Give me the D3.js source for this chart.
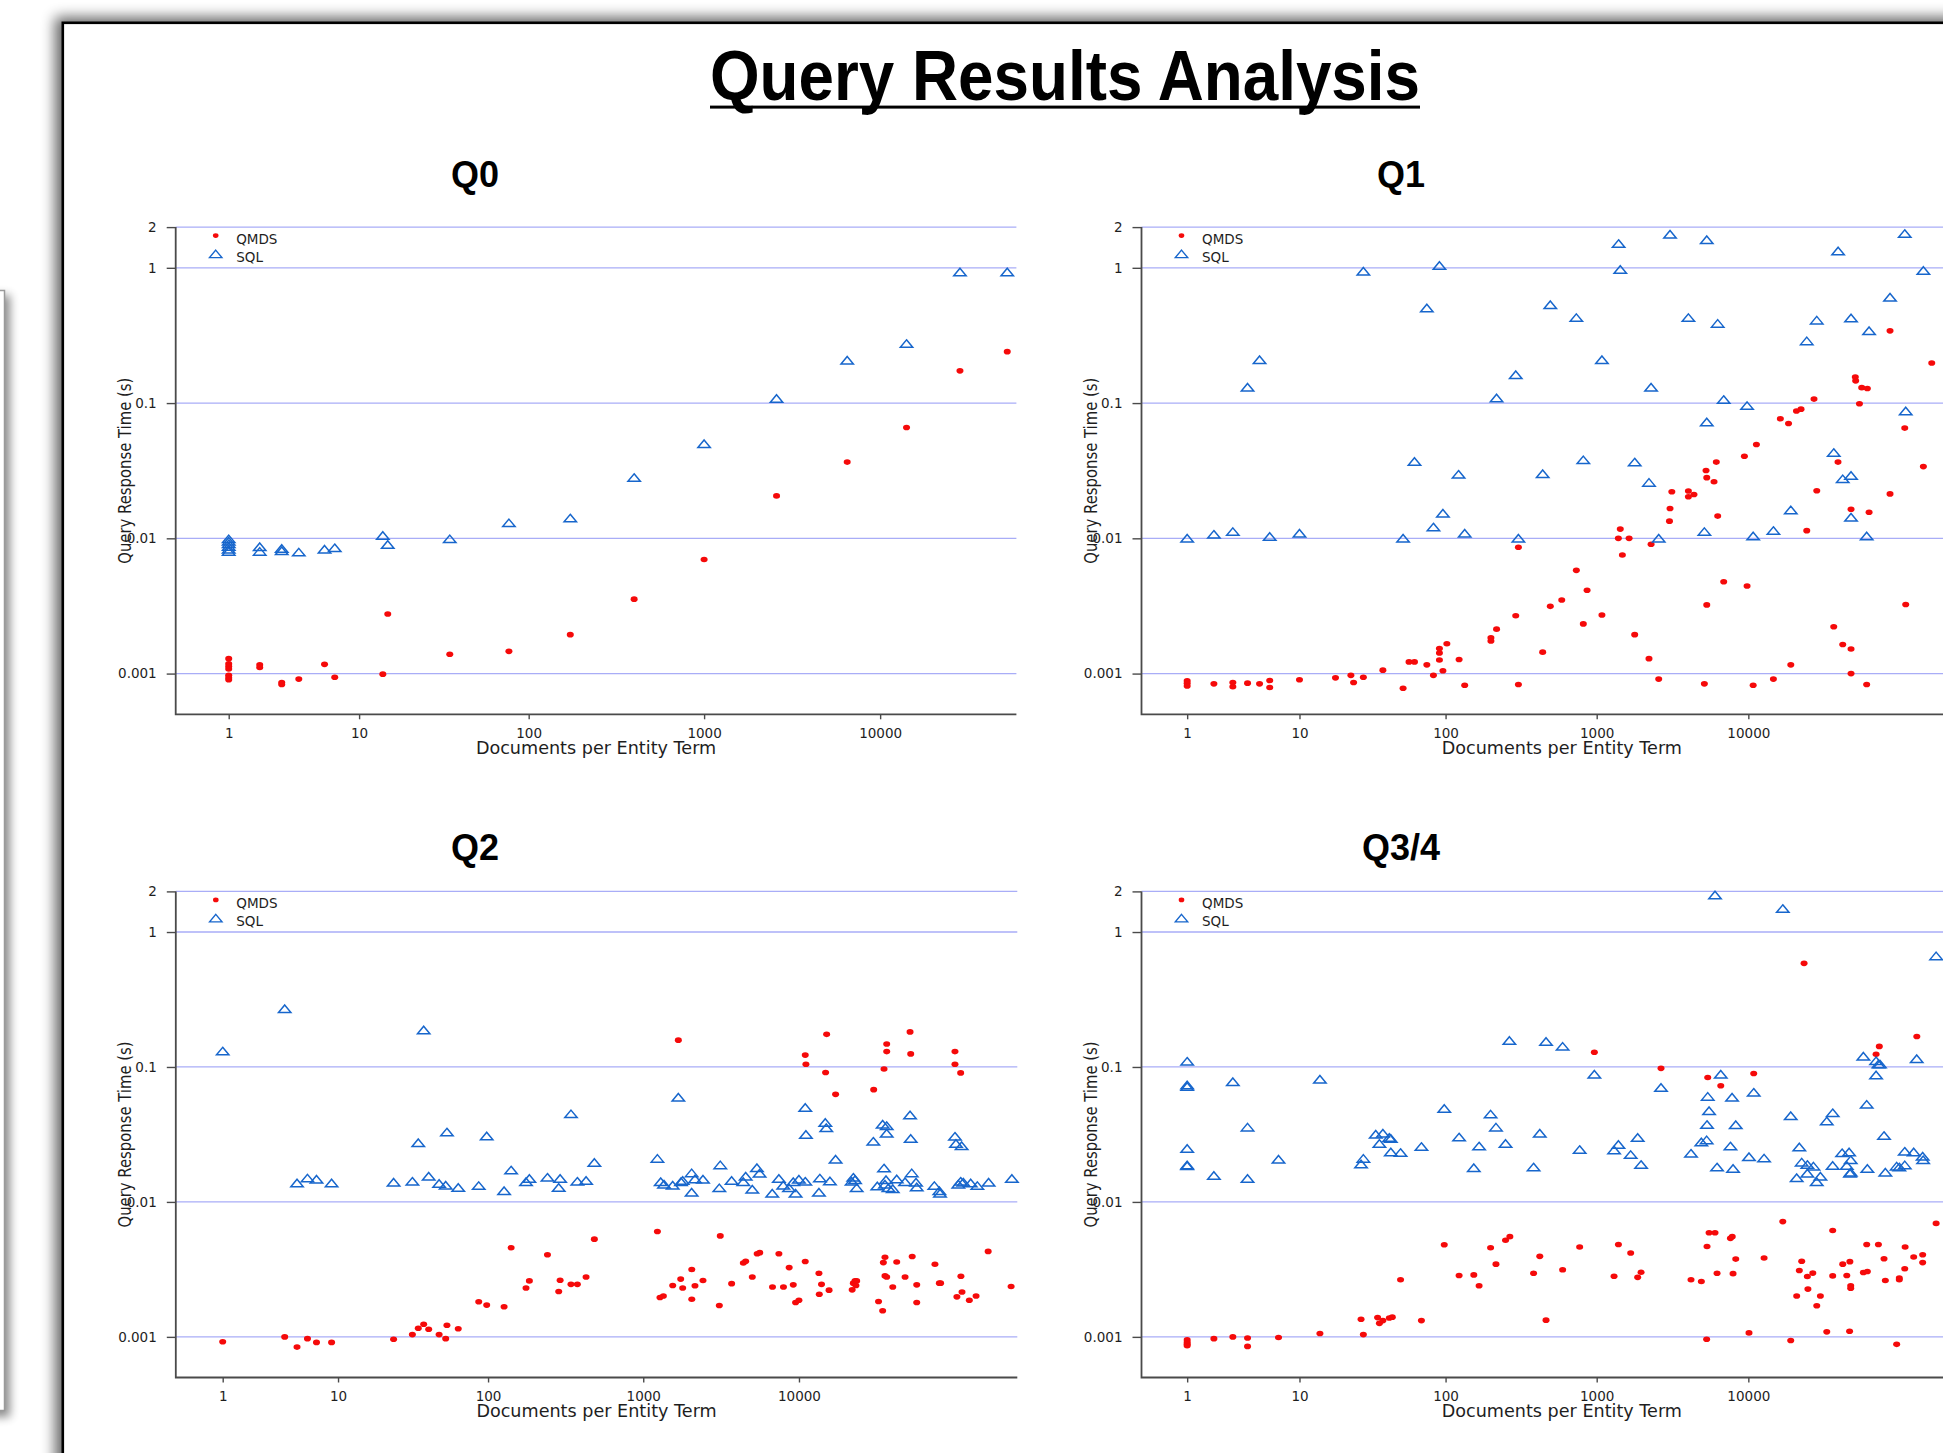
<!DOCTYPE html>
<html><head><meta charset="utf-8">
<script src="https://cdn.jsdelivr.net/npm/d3@7"></script>
<style>html,body{margin:0;padding:0;background:#fff;overflow:hidden}</style>
</head><body>
<script>
const mainTitle = "Query Results Analysis";
const panelTitles = ["Q0", "Q1", "Q2", "Q3/4"];
const seriesNames = ["QMDS", "SQL"];
const xLabel = "Documents per Entity Term";
const yLabel = "Query Response Time (s)";
const xTicks = [1, 10, 100, 1000, 10000];
const xTickLabels = ["1", "10", "100", "1000", "10000"];
const yTicks = [0.001, 0.01, 0.1, 1, 2];
const yTickLabels = ["0.001", "0.01", "0.1", "1", "2"];

const q0Qmds = [[1,0.00129],[1,0.00118],[1,0.00113],[1,0.00108],[1,0.00097],[1,0.00093],[1,0.0009],
[2,0.00116],[2,0.00111],[3,0.00086],[3,0.00083],[4,0.00091],[6,0.00117],[7,0.00094],[14,0.00099],[15,0.00276],
[35,0.00139],[77,0.00146],[173,0.00194],[400,0.00355],[1000,0.00697],[2580,0.0206],[6500,0.0366],[14120,0.066],[28400,0.173],[52700,0.24]];
const q0Sql = [[1,0.0099],[1,0.0095],[1,0.0091],[1,0.0087],[1,0.0083],[1,0.0080],[2,0.00867],[2,0.0080],[3,0.0084],[3,0.0081],
[4,0.0079],[6,0.0083],[7,0.0085],[14,0.0105],[15,0.0090],[35,0.0099],[77,0.0130],[173,0.0141],[400,0.0281],[1000,0.050],
[2580,0.108],[6500,0.207],[14120,0.275],[28400,0.93],[52700,0.93]];

const q1Qmds = [[1,0.000885],[1,0.00085],[1,0.00081],[2,0.00084],[3,0.00086],[3,0.0008],[4,0.00085],[5,0.00084],[6,0.00089],[6,0.00079],
[10,0.0009],[18,0.00093],[23,0.00097],[24,0.00086],[28,0.00094],[38,0.00106],[52,0.00078],[57,0.00122],[62,0.00122],[75,0.00116],
[83,0.00097],[91,0.00153],[91,0.00142],[91,0.00126],[96,0.00105],[102,0.00166],[123,0.00127],[134,0.00082],[200,0.00184],[200,0.00174],
[218,0.00213],[292,0.00268],[304,0.0086],[304,0.00083],[440,0.00144],[494,0.00314],[588,0.0035],[734,0.0058],[816,0.00233],[864,0.00413],
[1083,0.00271],[1390,0.0100],[1431,0.0117],[1477,0.00753],[1636,0.0100],[1781,0.00194],[2213,0.00129],[2284,0.00903],[2565,0.00091],
[3020,0.0134],[3046,0.0166],[3130,0.0221],[4025,0.0224],[4025,0.0203],[4380,0.0211],[5130,0.00084],[5260,0.0317],[5320,0.0281],
[5320,0.00322],[5940,0.0262],[6150,0.0366],[6280,0.0146],[6880,0.00477],[9420,0.0404],[9810,0.00444],[10760,0.00082],[11300,0.0494],
[14630,0.00091],[16260,0.0766],[18400,0.0707],[19050,0.00116],[20750,0.0874],[22250,0.0902],[24270,0.0114],[27100,0.107],[28250,0.0225],
[36560,0.00222],[39000,0.0366],[41900,0.00164],[47530,0.00152],[47530,0.0164],[47530,0.0010],[50700,0.156],[51000,0.146],[54000,0.0988],
[55900,0.130],[60900,0.128],[60260,0.00083],[62500,0.0156],[85900,0.342],[85900,0.0213],[107400,0.0653],[109000,0.00324],[142500,0.0339],[161800,0.198]];
const q1Sql = [[1,0.0100],[2,0.0107],[3,0.0112],[4,0.131],[5,0.209],[6,0.0103],[10,0.0109],[28,0.944],[52,0.0100],[62,0.037],
[75,0.505],[83,0.0121],[91,1.04],[96,0.0153],[122,0.0297],[134,0.0109],[218,0.109],[292,0.162],[304,0.0100],[440,0.030],
[494,0.533],[734,0.428],[816,0.038],[1083,0.209],[1395,1.51],[1431,0.972],[1781,0.0366],[2213,0.0259],[2284,0.131],[2565,0.0100],
[3046,1.77],[4025,0.428],[5130,0.0112],[5320,1.61],[5320,0.0725],[6280,0.388],[6880,0.106],[9810,0.0957],[10760,0.0104],[14630,0.0114],
[19050,0.0162],[24270,0.288],[28250,0.410],[36560,0.043],[39070,1.33],[41900,0.0275],[47530,0.425],[47530,0.0291],[47530,0.0143],
[60260,0.0104],[62500,0.342],[85900,0.606],[107400,1.79],[109000,0.0874],[142500,0.955]];

const q2Qmds = [[1,0.00092],[4,0.00100],[5,0.00084],[6,0.00097],[7,0.00091],[9,0.00091],[24,0.00096],[32,0.00104],[35,0.00116],[38,0.00124],
[41,0.00114],[48,0.00104],[53,0.00097],[54,0.00122],[64,0.00115],[87,0.00182],[98,0.00172],[127,0.00167],[141,0.00458],[176,0.0023],
[185,0.0026],[242,0.00406],[286,0.00217],[292,0.00263],[343,0.00245],[377,0.00245],[429,0.00278],[485,0.0053],
[1233,0.00603],[1281,0.00196],[1347,0.00201],[1546,0.0024],[1680,0.158],[1740,0.00268],[1792,0.0023],[2050,0.00316],[2050,0.0019],
[2149,0.00239],[2419,0.00262],[3080,0.00171],[3124,0.0056],[3695,0.00248],[4392,0.00353],[4548,0.00363],[5015,0.00278],[5390,0.00413],
[5600,0.00421],[6760,0.00234],[7430,0.00413],[7950,0.00234],[8650,0.00326],[9190,0.00243],[9510,0.0018],[9990,0.00187],[10970,0.00362],
[10970,0.1225],[11080,0.1047],[13430,0.00296],[13500,0.00207],[13950,0.00245],[14820,0.091],[15050,0.1745],[15600,0.00222],[17180,0.0627],
[21950,0.00223],[22330,0.0025],[22900,0.0026],[23200,0.0024],[23460,0.0026],[30170,0.0679],[32400,0.00183],[34450,0.00156],[34800,0.00355],
[35650,0.00389],[35150,0.0967],[35650,0.00283],[36570,0.00278],[36570,0.148],[36570,0.130],[39990,0.00234],[42400,0.00359],[47970,0.00278],
[51640,0.182],[52150,0.125],[53300,0.00394],[57000,0.00243],[57000,0.0018],[74600,0.00345],[79630,0.0025],[81100,0.0025],[100300,0.130],
[100300,0.1047],[103200,0.00198],[109100,0.0904],[109500,0.00281],[111300,0.00215],[124000,0.00187],[137000,0.00201],[163800,0.0043],[230000,0.00236]];
const q2Sql = [[1,0.131],[4,0.270],[5,0.0138],[6,0.0150],[7,0.0147],[9,0.0138],[24,0.0140],[32,0.0142],[35,0.0274],[38,0.1876],
[41,0.0155],[48,0.0137],[53,0.0133],[54,0.0329],[64,0.0128],[87,0.0132],[98,0.0308],[127,0.0121],[141,0.0172],[176,0.0141],
[185,0.0149],[242,0.0152],[286,0.0128],[292,0.0149],[343,0.0449],[377,0.0142],[429,0.0144],[485,0.0196],
[1233,0.0210],[1295,0.0141],[1360,0.0135],[1546,0.0133],[1680,0.0597],[1748,0.0141],[1792,0.0144],[2046,0.0164],[2046,0.0118],
[2149,0.0148],[2419,0.0147],[3080,0.0127],[3124,0.0188],[3695,0.0144],[4392,0.0141],[4548,0.0155],[5015,0.0124],[5370,0.0179],
[5585,0.0163],[6735,0.0116],[7430,0.0149],[7925,0.0133],[8630,0.0127],[9190,0.0141],[9510,0.0116],[9990,0.0147],[10970,0.0142],
[10970,0.0501],[11080,0.0316],[13430,0.0118],[13620,0.0150],[14750,0.0388],[14970,0.0354],[15800,0.0143],[17180,0.0207],[21770,0.0142],
[22330,0.0152],[22900,0.0146],[23460,0.0127],[30000,0.0281],[31840,0.0131],[34450,0.0376],[35150,0.0178],[35650,0.0135],[36200,0.0146],
[36570,0.0367],[36570,0.0323],[37500,0.0127],[39990,0.0125],[42400,0.0148],[47970,0.0141],[51640,0.044],[52150,0.0295],[52940,0.0164],
[56400,0.0140],[57000,0.0129],[73960,0.0132],[79630,0.0121],[80400,0.0116],[100300,0.0306],[101800,0.0271],[105400,0.0135],[109100,0.0142],
[110700,0.0261],[113500,0.0140],[126500,0.0138],[139600,0.0132],[164900,0.0140],[232600,0.0149]];

const q3Qmds = [[1,0.00095],[1,0.00091],[1,0.00088],[1,0.00086],[2,0.00097],[3,0.0010],[4,0.00098],[4,0.00085],[7,0.00099],[14,0.00106],
[27,0.00135],[28,0.00104],[35,0.00139],[36,0.00126],[38,0.00132],[42,0.00138],[44,0.0014],[50,0.00265],[69,0.00132],[98,0.00481],
[123,0.00285],[154,0.00288],[167,0.00239],[199,0.00458],[216,0.00346],[250,0.0052],[267,0.00553],
[383,0.00296],[421,0.00395],[463,0.00133],[596,0.00314],[772,0.00463],[965,0.1285],[1302,0.00281],[1391,0.00484],[1676,0.00418],
[1864,0.00276],[1962,0.00301],[2656,0.0977],[4188,0.00265],[4900,0.00257],[5310,0.00096],[5340,0.00467],[5400,0.0836],[5510,0.00591],
[6030,0.00591],[6220,0.00296],[6580,0.0726],[7620,0.00537],[7830,0.00553],[7930,0.00294],[8260,0.00377],[10100,0.00107],[10850,0.0894],
[12700,0.00384],[16870,0.00715],[19030,0.00094],[20830,0.00201],[21680,0.0031],[22480,0.00363],[23300,0.586],[24490,0.0028],[24700,0.00226],
[26600,0.00297],[28250,0.0017],[29850,0.00201],[32880,0.00109],[35980,0.00614],[35980,0.00283],[41900,0.00346],[44560,0.00285],[46700,0.00361],
[46500,0.0011],[47300,0.00239],[47300,0.00229],[57300,0.003],[60300,0.00484],[60900,0.00305],[69500,0.124],[72000,0.00484],[73000,0.142],
[78400,0.00379],[80000,0.00262],[95000,0.00088],[98900,0.00273],[98900,0.00265],[107400,0.0032],[108000,0.00463],[123000,0.00391],
[129000,0.168],[141000,0.00406],[141000,0.00355],[172900,0.00693]];
const q3Sql = [[1,0.110],[1,0.0735],[1,0.0717],[1,0.0249],[1,0.0188],[1,0.0185],[2,0.0157],[3,0.0777],[4,0.0358],[4,0.0149],
[7,0.0207],[14,0.081],[27,0.0191],[28,0.021],[34,0.0317],[36,0.0271],[38,0.0323],[42,0.030],[43,0.0295],[43,0.0234],
[50,0.0232],[69,0.0257],[98,0.0492],[123,0.0302],[154,0.0179],[167,0.0259],[199,0.0447],[216,0.0358],[250,0.0271],[265,0.157],
[383,0.0181],[421,0.0323],[463,0.1545],[596,0.142],[772,0.0244],[965,0.0883],[1302,0.0242],[1391,0.0266],[1676,0.0224],[1864,0.030],
[1962,0.0189],[2656,0.0705],[4188,0.0229],[4900,0.0278],[5310,0.0288],[5340,0.0374],[5400,0.0605],[5510,0.0474],[6030,1.88],[6220,0.0181],
[6580,0.0883],[7620,0.0259],[7810,0.0596],[7930,0.0177],[8260,0.0373],[10100,0.0216],[10850,0.0648],[12700,0.0211],[16870,1.49],[19030,0.0435],
[20830,0.0151],[21680,0.0255],[22480,0.0197],[24490,0.0189],[24490,0.0163],[26850,0.0184],[28250,0.0141],[29850,0.0155],[32880,0.0397],
[35980,0.0457],[35980,0.0186],[41500,0.0231],[44560,0.0186],[46150,0.0234],[47300,0.0205],[47300,0.0166],[46800,0.0163],[57300,0.120],
[60300,0.0528],[60900,0.0177],[69500,0.0871],[69500,0.111],[72000,0.105],[73700,0.105],[78400,0.031],[80000,0.0166],[95000,0.0184],
[98900,0.0181],[107400,0.0237],[107400,0.0188],[123000,0.0234],[128800,0.115],[141000,0.0218],[142000,0.0205],[172900,0.665]];

const qmdsSets = [q0Qmds, q1Qmds, q2Qmds, q3Qmds];
const sqlSets = [q0Sql, q1Sql, q2Sql, q3Sql];

// ---------- layout ----------
const W = 1943, H = 1453;
const panels = [
  {tx:475, ty:187, ax:175.7, right:1016.4, top:227.1, bottom:714.3, xmax:59400},
  {tx:1401, ty:187, ax:1141.5, right:1982.2, top:227.1, bottom:714.3, xmax:348000},
  {tx:475, ty:860, ax:175.8, right:1017.3, top:891.4, bottom:1377.5, xmax:252000},
  {tx:1401, ty:860, ax:1141.5, right:1982.2, top:891.4, bottom:1377.5, xmax:348000}
];
const RED = "#f50a0a", BLUE = "#1766cc", GRID = "#a9adf7", AXIS = "#4a4a4a", TXT = "#1e1e1e";
const tickFont = "'DejaVu Sans', sans-serif";
const triPath = "M0,-3.8L6.2,3.7L-6.2,3.7Z";

const svg = d3.select("body").append("svg").attr("width", W).attr("height", H)
  .style("display", "block");
const defs = svg.append("defs");
const f1 = defs.append("filter").attr("id", "blur7").attr("x", "-20%").attr("y", "-20%").attr("width", "140%").attr("height", "140%");
f1.append("feGaussianBlur").attr("stdDeviation", 7);
const f2 = defs.append("filter").attr("id", "blur5").attr("x", "-50%").attr("y", "-20%").attr("width", "300%").attr("height", "140%");
f2.append("feGaussianBlur").attr("stdDeviation", 5);

svg.append("rect").attr("width", W).attr("height", H).attr("fill", "#fff");

// left edge box (another slide) with shadow
svg.append("rect").attr("x", -10).attr("y", 295).attr("width", 20).attr("height", 1122)
  .attr("fill", "#000").attr("opacity", 0.45).attr("filter", "url(#blur5)");
svg.append("rect").attr("x", -10).attr("y", 290.5).attr("width", 14.5).attr("height", 1120)
  .attr("fill", "#fff").attr("stroke", "#9a9a9a").attr("stroke-width", 1.5);

// slide frame with shadow
svg.append("rect").attr("x", 55).attr("y", 17).attr("width", 2100).attr("height", 2100)
  .attr("fill", "#000").attr("opacity", 0.6).attr("filter", "url(#blur7)");
svg.append("rect").attr("x", 62.8).attr("y", 22.8).attr("width", 2100).attr("height", 2100)
  .attr("fill", "#fff").attr("stroke", "#000").attr("stroke-width", 2.6);

// main title
svg.append("text").attr("x", 1065).attr("y", 100).attr("text-anchor", "middle")
  .attr("font-family", "'Liberation Sans', Arial, sans-serif").attr("font-weight", "bold")
  .attr("font-size", 70).attr("textLength", 710).attr("lengthAdjust", "spacingAndGlyphs")
  .attr("fill", "#000").text(mainTitle);
svg.append("rect").attr("x", 710).attr("y", 105.6).attr("width", 710).attr("height", 3).attr("fill", "#000");

panels.forEach((p, i) => {
  const g = svg.append("g");
  const x = d3.scaleSymlog().constant(1).domain([0, p.xmax]).range([p.ax, p.right]);
  const y = d3.scaleLog().domain([0.0005, 2]).range([p.bottom, p.top]);

  // panel title
  g.append("text").attr("x", p.tx).attr("y", p.ty).attr("text-anchor", "middle")
    .attr("font-family", "'Liberation Sans', Arial, sans-serif").attr("font-weight", "bold")
    .attr("font-size", 36).attr("fill", "#000").text(panelTitles[i]);

  // grid lines
  g.append("g").selectAll("line").data(yTicks).join("line")
    .attr("x1", p.ax).attr("x2", p.right)
    .attr("y1", d => y(d)).attr("y2", d => y(d))
    .attr("stroke", GRID).attr("stroke-width", 1.3);

  // axes
  const ya = g.append("g").attr("transform", `translate(${p.ax},0)`)
    .call(d3.axisLeft(y).tickValues(yTicks).tickSize(9).tickPadding(10)
      .tickFormat(d => yTickLabels[yTicks.indexOf(d)]));
  const xa = g.append("g").attr("transform", `translate(0,${p.bottom})`)
    .call(d3.axisBottom(x).tickValues(xTicks).tickSize(5).tickPadding(9)
      .tickFormat(d => xTickLabels[xTicks.indexOf(d)]));
  [ya, xa].forEach(a => {
    a.select(".domain").remove();
    a.selectAll(".tick line").attr("stroke", AXIS).attr("stroke-width", 1.4);
    a.selectAll(".tick text").attr("font-family", tickFont).attr("font-size", 13.5).attr("fill", TXT);
  });
  g.append("path").attr("d", `M${p.ax},${y(2)}V${p.bottom}H${p.right}`)
    .attr("fill", "none").attr("stroke", AXIS).attr("stroke-width", 1.8);

  // axis labels
  g.append("text").attr("x", (p.ax + p.right) / 2).attr("y", p.bottom + 39.3)
    .attr("text-anchor", "middle").attr("font-family", tickFont).attr("font-size", 17.6)
    .attr("fill", TXT).text(xLabel);
  g.append("text").attr("transform", `translate(${p.ax - 45},${(p.top + p.bottom) / 2}) rotate(-90)`)
    .attr("text-anchor", "middle").attr("font-family", tickFont).attr("font-size", 17.5)
    .attr("textLength", 186).attr("lengthAdjust", "spacingAndGlyphs")
    .attr("fill", TXT).text(yLabel);

  // points
  g.append("g").selectAll("ellipse").data(qmdsSets[i]).join("ellipse")
    .attr("cx", d => x(d[0])).attr("cy", d => y(d[1]))
    .attr("rx", 3.5).attr("ry", 2.8).attr("fill", RED);
  g.append("g").selectAll("path").data(sqlSets[i]).join("path")
    .attr("transform", d => `translate(${x(d[0])},${y(d[1])})`)
    .attr("d", triPath).attr("fill", "none").attr("stroke", BLUE).attr("stroke-width", 1.5)
    .attr("stroke-linejoin", "miter");

  // legend
  const lx = p.ax + 40, lt = p.top;
  g.append("ellipse").attr("cx", lx).attr("cy", lt + 8.5).attr("rx", 2.8).attr("ry", 2.3).attr("fill", RED);
  g.append("path").attr("transform", `translate(${lx},${lt + 26.8})`).attr("d", triPath)
    .attr("fill", "none").attr("stroke", BLUE).attr("stroke-width", 1.4);
  g.append("text").attr("x", p.ax + 60.5).attr("y", lt + 16.5).attr("font-family", tickFont)
    .attr("font-size", 13.5).attr("fill", TXT).text(seriesNames[0]);
  g.append("text").attr("x", p.ax + 60.5).attr("y", lt + 35).attr("font-family", tickFont)
    .attr("font-size", 13.5).attr("fill", TXT).text(seriesNames[1]);
});
</script>
</body></html>
